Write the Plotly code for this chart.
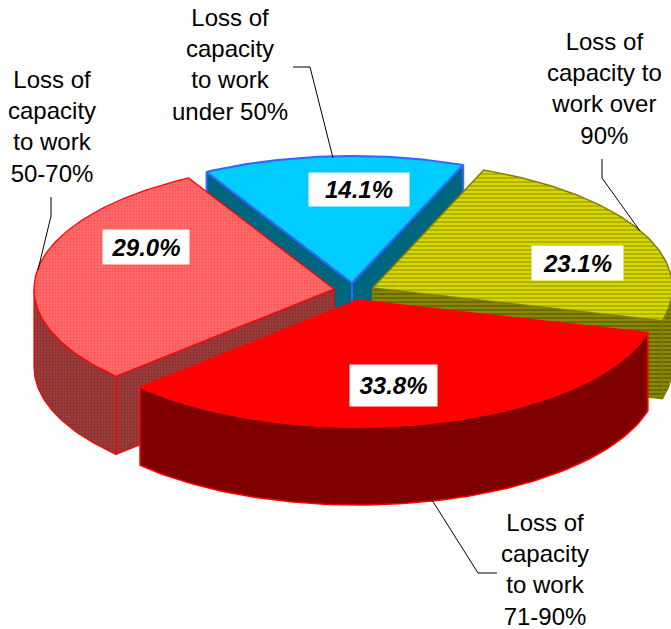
import math
import plotly.graph_objects as go

# ---- data ----
categories = ["Loss of capacity to work under 50%",
              "Loss of capacity to work over 90%",
              "Loss of capacity to work 71-90%",
              "Loss of capacity to work 50-70%"]
values = [14.1, 23.1, 33.8, 29.0]
value_labels = ["14.1%", "23.1%", "33.8%", "29.0%"]
category_labels = ["Loss of<br>capacity<br>to work<br>under 50%",
                   "Loss of<br>capacity to<br>work over<br>90%",
                   "Loss of<br>capacity<br>to work<br>71-90%",
                   "Loss of<br>capacity<br>to work<br>50-70%"]

# ---- drawing geometry and style ----
W, H = 671, 629
RX, RY, DEPTH = 300, 127, 78
START = 119.0
centres = [(352, 283), (372.5, 288), (358, 300), (334, 289)]
draw_order = [0, 1, 3, 2]
styles = [
    dict(top="#00CCFF", side="#006680", line="#3366FF", lw=2, pat=None, spat=None),
    dict(top="#CCCC00", side="#666600", line="#808000", lw=1.5,
         pat=dict(shape="-", fgcolor="#808000", bgcolor="#D8D800", size=4, solidity=0.45),
         spat=dict(shape="-", fgcolor="#404000", bgcolor="#8A8A00", size=4, solidity=0.45)),
    dict(top="#FF0000", side="#800000", line="#FF0000", lw=1.5, pat=None, spat=None),
    dict(top="#FF6666", side="#803333", line="#FF0000", lw=1.2,
         pat=dict(shape=".", fgcolor="#FF3030", bgcolor="#FF6C6C", size=3, solidity=0.35),
         spat=dict(shape=".", fgcolor="#6B1A1A", bgcolor="#9C3C3C", size=3, solidity=0.35)),
]
box_sizes = [(100, 33), (91, 34), (87, 41), (86, 34)]
box_centres = [(359, 189.5), (577.5, 263), (393.5, 385.5), (146, 247)]
label_centres = [(230, 64), (604, 88), (545, 569), (52, 126)]
leaders = [
    [(293, 67), (310, 67), (333, 158)],
    [(602, 159), (602, 178), (640, 231)],
    [(432, 500), (478, 573), (497, 573)],
    [(51, 197), (51, 216), (38, 270)],
]

total = sum(values)
angles = []
a = START
for v in values:
    b = a - v / total * 360
    angles.append((a, b))
    a = b


def pt(c, ang, dz=0):
    r = math.radians(ang)
    return (c[0] + RX * math.cos(r), c[1] - RY * math.sin(r) + dz)


def arc(c, a1, a2, dz=0):
    n = max(2, int(abs(a1 - a2)) + 1)
    return [pt(c, a1 + (a2 - a1) * i / (n - 1), dz) for i in range(n)]


fig = go.Figure()


def poly(points, fill, line, lw, pattern=None):
    xs = [p[0] for p in points] + [points[0][0]]
    ys = [p[1] for p in points] + [points[0][1]]
    kw = dict(fillpattern=pattern) if pattern else {}
    fig.add_trace(go.Scatter(x=xs, y=ys, mode="lines", fill="toself", fillcolor=fill,
                             line=dict(color=line, width=lw), hoverinfo="skip",
                             showlegend=False, **kw))


for i in draw_order:
    c, s = centres[i], styles[i]
    a1, a2 = angles[i]
    low = c[0], c[1] + DEPTH
    # flat cut faces that look towards the viewer
    if math.cos(math.radians(a1)) < 0:
        p = pt(c, a1)
        poly([c, p, (p[0], p[1] + DEPTH), low], s["side"], s["line"], s["lw"], s["spat"])
    if math.cos(math.radians(a2)) > 0:
        p = pt(c, a2)
        poly([c, p, (p[0], p[1] + DEPTH), low], s["side"], s["line"], s["lw"], s["spat"])
    # curved outer wall, front half only
    w1, w2 = None, None
    for lo, hi in [(-180, 0), (-540, -360), (180, 360)]:
        h = min(a1, hi)
        l = max(a2, lo)
        if h > l:
            w1, w2 = h, l
    if w1 is not None:
        poly(arc(c, w1, w2) + arc(c, w2, w1, DEPTH), s["side"], s["line"], s["lw"], s["spat"])
    # top face
    poly([c] + arc(c, a1, a2), s["top"], s["line"], s["lw"], s["pat"])

# leader lines
for pts in leaders:
    fig.add_trace(go.Scatter(x=[p[0] for p in pts], y=[p[1] for p in pts], mode="lines",
                             line=dict(color="#000000", width=1), hoverinfo="skip",
                             showlegend=False))

annotations = []
for i in range(len(values)):
    annotations.append(dict(
        x=box_centres[i][0], y=box_centres[i][1], xref="x", yref="y",
        text=value_labels[i], showarrow=False, bgcolor="#FFFFFF",
        width=box_sizes[i][0], height=box_sizes[i][1],
        xanchor="center", yanchor="middle", borderpad=0,
        font=dict(family="Liberation Sans", size=24, color="#000000", weight="bold", style="italic")))
    annotations.append(dict(
        x=label_centres[i][0], y=label_centres[i][1], xref="x", yref="y",
        text=category_labels[i], showarrow=False, align="center",
        xanchor="center", yanchor="middle",
        font=dict(family="Liberation Sans", size=24, color="#000000")))

fig.update_layout(
    width=W, height=H, margin=dict(l=0, r=0, t=0, b=0),
    paper_bgcolor="#FFFFFF", plot_bgcolor="#FFFFFF",
    xaxis=dict(range=[0, W], visible=False, fixedrange=True),
    yaxis=dict(range=[H, 0], visible=False, fixedrange=True),
    annotations=annotations, showlegend=False,
)
fig.write_html("out.html", config=dict(displayModeBar=False),
               post_script="document.body.style.margin='0';")
